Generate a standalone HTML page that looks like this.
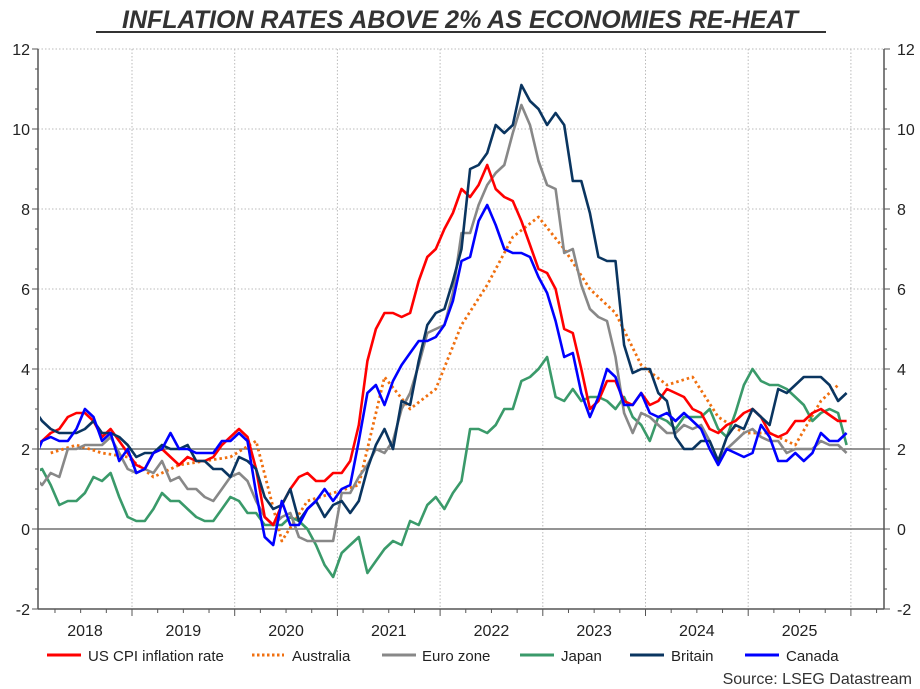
<!DOCTYPE html>
<html><head><meta charset="utf-8"><style>
body{margin:0;background:#fff;}
svg{display:block;font-family:"Liberation Sans",Arial,sans-serif;}
</style></head><body>
<svg id="s" width="920" height="689" viewBox="0 0 920 689" xmlns="http://www.w3.org/2000/svg">
<rect width="920" height="689" fill="#fff"/>
<text x="460" y="28" text-anchor="middle" font-size="25" font-weight="bold" font-style="italic" fill="#333">INFLATION RATES ABOVE 2% AS ECONOMIES RE-HEAT</text>
<line x1="96" y1="32" x2="826" y2="32" stroke="#333" stroke-width="2"/>
<g id="grid"></g>
<g id="series"></g>
<g id="axes"></g>
<g font-size="16" fill="#222">
<text x="30" y="55" text-anchor="end">12</text><text x="30" y="135" text-anchor="end">10</text>
<text x="30" y="215" text-anchor="end">8</text><text x="30" y="295" text-anchor="end">6</text>
<text x="30" y="375" text-anchor="end">4</text><text x="30" y="455" text-anchor="end">2</text>
<text x="30" y="535" text-anchor="end">0</text><text x="30" y="615" text-anchor="end">-2</text>
<text x="897" y="55">12</text><text x="897" y="135">10</text><text x="897" y="215">8</text>
<text x="897" y="295">6</text><text x="897" y="375">4</text><text x="897" y="455">2</text>
<text x="897" y="535">0</text><text x="897" y="615">-2</text>
</g>
<g font-size="16" fill="#222" text-anchor="middle" id="yrs"></g>
<g font-size="15" fill="#222">
<line x1="47" y1="655" x2="81" y2="655" stroke="#f00" stroke-width="3"/><text x="88" y="661">US CPI inflation rate</text>
<line x1="252" y1="655" x2="284" y2="655" stroke="#f07010" stroke-width="3" stroke-dasharray="2.5,2.5"/><text x="292" y="661">Australia</text>
<line x1="382" y1="655" x2="416" y2="655" stroke="#888" stroke-width="3"/><text x="422" y="661">Euro zone</text>
<line x1="520" y1="655" x2="554" y2="655" stroke="#3a9a6a" stroke-width="3"/><text x="561" y="661">Japan</text>
<line x1="630" y1="655" x2="664" y2="655" stroke="#0a3560" stroke-width="3"/><text x="671" y="661">Britain</text>
<line x1="745" y1="655" x2="779" y2="655" stroke="#00f" stroke-width="3"/><text x="786" y="661">Canada</text>
</g>
<text x="912" y="684" text-anchor="end" font-size="16" fill="#333">Source: LSEG Datastream</text>
</svg>
<script>
const NS="http://www.w3.org/2000/svg";
const L=38,R=884,T=49,B=609;
const YW=102.7, Y0=132-102.7;
const X=m=>Y0+YW*(m+0.5)/12, Y=v=>529-40*v;
function el(p,t,a){const e=document.createElementNS(NS,t);for(const k in a)e.setAttribute(k,a[k]);document.getElementById(p).appendChild(e);return e;}
for(let v=-2;v<=12;v+=2){if(v==0||v==2||v==-2)continue;el("grid","line",{x1:L,x2:R,y1:Y(v),y2:Y(v),stroke:"#bbb","stroke-dasharray":"1.5,2"});}
for(let k=1;k<=8;k++){const x=Y0+YW*k;el("grid","line",{x1:x,x2:x,y1:T,y2:B,stroke:"#bbb","stroke-dasharray":"1.5,2"});}
el("grid","line",{x1:L,x2:R,y1:Y(0),y2:Y(0),stroke:"#555","stroke-width":1.2});
el("grid","line",{x1:L,x2:R,y1:Y(2),y2:Y(2),stroke:"#555","stroke-width":1.2});
el("axes","line",{x1:L,x2:L,y1:T,y2:B,stroke:"#555","stroke-width":1.5});
el("axes","line",{x1:R,x2:R,y1:T,y2:B,stroke:"#555","stroke-width":1.5});
el("axes","line",{x1:L,x2:R,y1:B,y2:B,stroke:"#555","stroke-width":1.5});
for(let v=-2;v<=12;v+=0.5){const maj=v%2==0,len=maj?6:3;
el("axes","line",{x1:L-len,x2:L,y1:Y(v),y2:Y(v),stroke:"#555"});
el("axes","line",{x1:R,x2:R+len,y1:Y(v),y2:Y(v),stroke:"#555"});}
for(let q=0;q<40;q++){const x=Y0+YW*q/4;if(x<L||x>R)continue;const maj=q%4==0;
el("axes","line",{x1:x,x2:x,y1:B,y2:B+(maj?7:4),stroke:"#555"});}
for(let k=0;k<8;k++){const t=el("yrs","text",{x:k==0?85:Y0+YW*(k+0.5),y:636});t.textContent=2018+k;}
const S={
us:[2.1,2.2,2.4,2.5,2.8,2.9,2.9,2.7,2.3,2.5,2.2,1.9,1.6,1.5,1.9,2.0,1.8,1.6,1.8,1.7,1.7,1.8,2.1,2.3,2.5,2.3,1.5,0.3,0.1,0.6,1.0,1.3,1.4,1.2,1.2,1.4,1.4,1.7,2.6,4.2,5.0,5.4,5.4,5.3,5.4,6.2,6.8,7.0,7.5,7.9,8.5,8.3,8.6,9.1,8.5,8.3,8.2,7.7,7.1,6.5,6.4,6.0,5.0,4.9,4.0,3.0,3.2,3.7,3.7,3.2,3.1,3.4,3.1,3.2,3.5,3.4,3.3,3.0,2.9,2.5,2.4,2.6,2.7,2.9,3.0,2.8,2.4,2.3,2.4,2.7,2.7,2.9,3.0,2.85,2.7,2.7],
eu:[1.3,1.1,1.4,1.3,2.0,2.0,2.1,2.1,2.1,2.3,1.9,1.5,1.4,1.5,1.4,1.7,1.2,1.3,1.0,1.0,0.8,0.7,1.0,1.3,1.4,1.2,0.7,0.3,0.1,0.3,0.4,-0.2,-0.3,-0.3,-0.3,-0.3,0.9,0.9,1.3,1.6,2.0,1.9,2.2,3.0,3.4,4.1,4.9,5.0,5.1,5.9,7.4,7.4,8.1,8.6,8.9,9.1,9.9,10.6,10.1,9.2,8.6,8.5,6.9,7.0,6.1,5.5,5.3,5.2,4.3,2.9,2.4,2.9,2.8,2.6,2.4,2.4,2.6,2.5,2.6,2.2,1.7,2.0,2.2,2.4,2.5,2.3,2.2,2.2,1.9,2.0,2.0,2.0,2.2,2.1,2.1,1.9],
jp:[1.4,1.5,1.1,0.6,0.7,0.7,0.9,1.3,1.2,1.4,0.8,0.3,0.2,0.2,0.5,0.9,0.7,0.7,0.5,0.3,0.2,0.2,0.5,0.8,0.7,0.4,0.4,0.1,0.1,0.1,0.3,0.2,0.0,-0.4,-0.9,-1.2,-0.6,-0.4,-0.2,-1.1,-0.8,-0.5,-0.3,-0.4,0.2,0.1,0.6,0.8,0.5,0.9,1.2,2.5,2.5,2.4,2.6,3.0,3.0,3.7,3.8,4.0,4.3,3.3,3.2,3.5,3.2,3.3,3.3,3.2,3.0,3.3,2.8,2.6,2.2,2.8,2.7,2.5,2.8,2.8,2.8,3.0,2.5,2.3,2.9,3.6,4.0,3.7,3.6,3.6,3.5,3.3,3.1,2.7,2.9,3.0,2.9,2.1],
uk:[3.0,2.7,2.5,2.4,2.4,2.4,2.5,2.7,2.4,2.4,2.3,2.1,1.8,1.9,1.9,2.1,2.0,2.0,2.1,1.7,1.7,1.5,1.5,1.3,1.8,1.7,1.5,0.8,0.5,0.6,1.0,0.2,0.5,0.7,0.3,0.6,0.7,0.4,0.7,1.5,2.1,2.5,2.0,3.2,3.1,4.2,5.1,5.4,5.5,6.2,7.0,9.0,9.1,9.4,10.1,9.9,10.1,11.1,10.7,10.5,10.1,10.4,10.1,8.7,8.7,7.9,6.8,6.7,6.7,4.6,3.9,4.0,4.0,3.4,3.2,2.3,2.0,2.0,2.2,2.2,1.7,2.3,2.6,2.5,3.0,2.8,2.6,3.5,3.4,3.6,3.8,3.8,3.8,3.6,3.2,3.4],
ca:[1.7,2.2,2.3,2.2,2.2,2.5,3.0,2.8,2.2,2.4,1.7,2.0,1.4,1.5,1.9,2.0,2.4,2.0,2.0,1.9,1.9,1.9,2.2,2.2,2.4,2.2,0.9,-0.2,-0.4,0.7,0.1,0.1,0.5,0.7,1.0,0.7,1.0,1.1,2.2,3.4,3.6,3.1,3.7,4.1,4.4,4.7,4.7,4.8,5.1,5.7,6.7,6.8,7.7,8.1,7.6,7.0,6.9,6.9,6.8,6.3,5.9,5.2,4.3,4.4,3.4,2.8,3.3,4.0,3.8,3.1,3.1,3.4,2.9,2.8,2.9,2.7,2.9,2.7,2.5,2.0,1.6,2.0,1.9,1.8,1.9,2.6,2.3,1.7,1.7,1.9,1.7,1.9,2.4,2.2,2.2,2.4]};
const au=[[2,1.9],[5,2.1],[8,1.9],[11,1.8],[14,1.3],[17,1.6],[20,1.7],[23,1.8],[26,2.2],[29,-0.3],[32,0.7],[35,0.9],[38,1.1],[41,3.8],[44,3.0],[47,3.5],[50,5.1],[53,6.1],[56,7.3],[59,7.8],[62,7.0],[65,6.0],[68,5.4],[71,4.1],[74,3.6],[77,3.8],[80,2.8],[83,2.4],[86,2.4],[89,2.1],[92,3.2],[94,3.6]];
function pl(pts,c,extra){const a=Object.assign({points:pts.map(p=>X(p[0]).toFixed(1)+","+Y(p[1]).toFixed(1)).join(" "),fill:"none",stroke:c,"stroke-width":2.6,"stroke-linejoin":"round","clip-path":"url(#cp)"},extra||{});el("series","polyline",a);}
const cp=document.createElementNS(NS,"clipPath");cp.setAttribute("id","cp");const r=document.createElementNS(NS,"rect");r.setAttribute("x",L+2);r.setAttribute("y",T);r.setAttribute("width",R-L-4);r.setAttribute("height",B-T);cp.appendChild(r);document.getElementById("s").appendChild(cp);
const m=a=>a.map((v,i)=>[i,v]);
pl(au,"#f07010",{"stroke-dasharray":"2.5,3","stroke-width":2.8});
pl(m(S.jp),"#3a9a6a");
pl(m(S.eu),"#888");
pl(m(S.us),"#f00");
pl(m(S.uk),"#0a3560");
pl(m(S.ca),"#00f");
</script>
</body></html>
